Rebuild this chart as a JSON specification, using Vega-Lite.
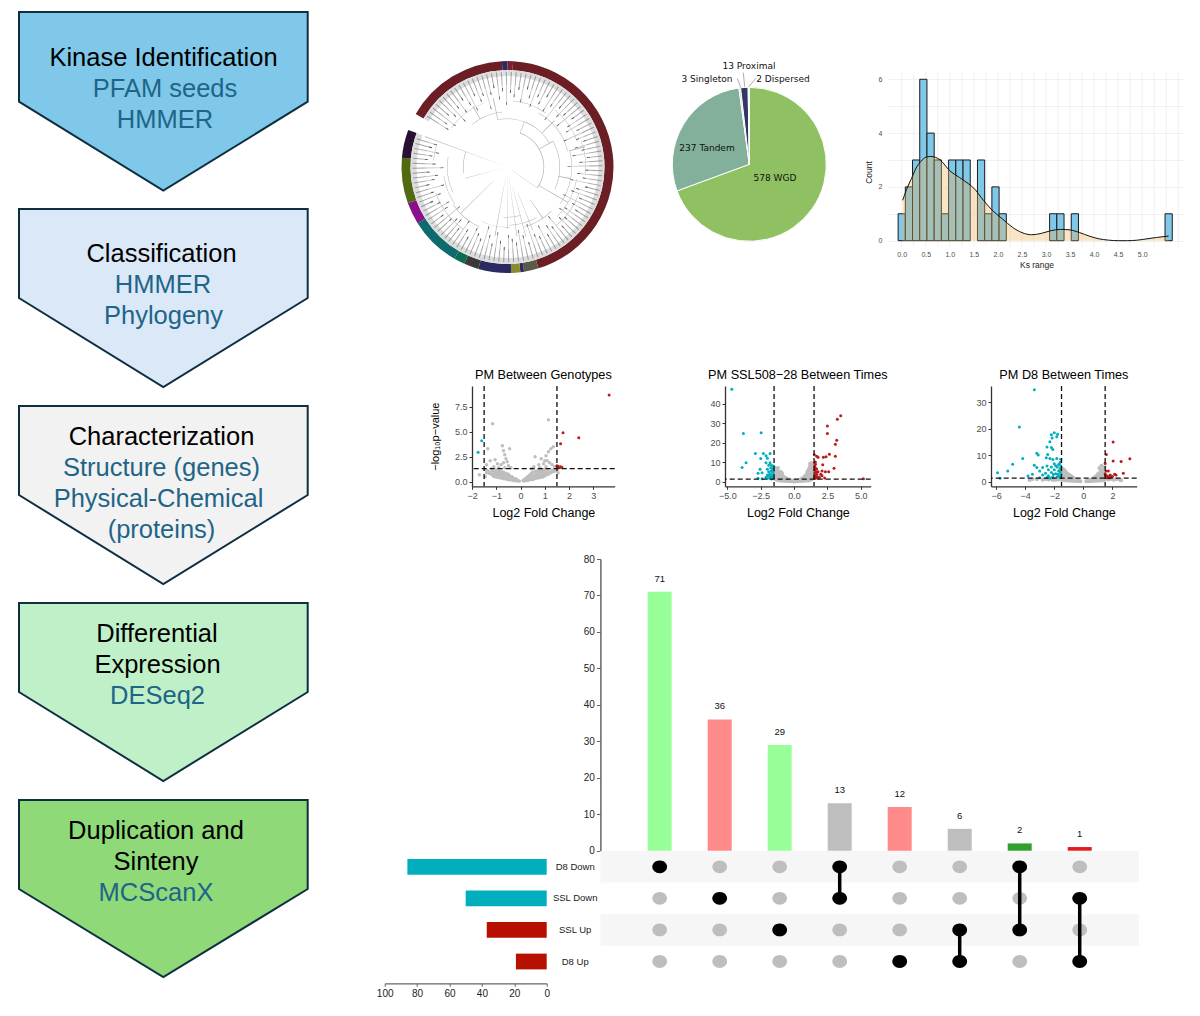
{"$schema":"https://vega.github.io/schema/vega-lite/v6.json","background":"white","padding":0,"spacing":0,"resolve":{"scale":{"color":"independent"}},"config":{"font":"Liberation Sans","view":{"stroke":null},"axis":{"labelFontWeight":"normal","titleFontWeight":"normal","labelFlush":false}},
"datasets":{
"flow":[{"step":"1","x":19,"t":12,"b":101.7},{"step":"1","x":163.3,"t":12,"b":190.7},{"step":"1","x":307.7,"t":12,"b":101.7},{"step":"2","x":19,"t":209,"b":298},{"step":"2","x":163.3,"t":209,"b":387},{"step":"2","x":307.7,"t":209,"b":298},{"step":"3","x":19,"t":406,"b":495},{"step":"3","x":163.3,"t":406,"b":584},{"step":"3","x":307.7,"t":406,"b":495},{"step":"4","x":19,"t":603,"b":692},{"step":"4","x":163.3,"t":603,"b":781},{"step":"4","x":307.7,"t":603,"b":692},{"step":"5","x":19,"t":800,"b":889},{"step":"5","x":163.3,"t":800,"b":977},{"step":"5","x":307.7,"t":800,"b":889}],
"flowText":[{"l":"Kinase Identification","x":163.5,"y":57,"k":"head"},{"l":"PFAM seeds","x":165,"y":88,"k":"sub"},{"l":"HMMER","x":165,"y":119,"k":"sub"},{"l":"Classification","x":161.5,"y":253,"k":"head"},{"l":"HMMER","x":163,"y":284,"k":"sub"},{"l":"Phylogeny","x":163.5,"y":315,"k":"sub"},{"l":"Characterization","x":161.5,"y":436,"k":"head"},{"l":"Structure (genes)","x":161.5,"y":467,"k":"sub"},{"l":"Physical-Chemical","x":158.5,"y":498,"k":"sub"},{"l":"(proteins)","x":161.5,"y":529,"k":"sub"},{"l":"Differential","x":157,"y":633,"k":"head"},{"l":"Expression","x":157.5,"y":664,"k":"head"},{"l":"DESeq2","x":157.5,"y":695,"k":"sub"},{"l":"Duplication and","x":156,"y":830,"k":"head"},{"l":"Sinteny","x":156,"y":861,"k":"head"},{"l":"MCScanX","x":156,"y":892,"k":"sub"}],
"ring":[{"a":-60,"b":-3,"c":"C1"},{"a":-3,"b":0,"c":"C2"},{"a":0,"b":3,"c":"C3"},{"a":3,"b":163,"c":"C1"},{"a":163,"b":171,"c":"C4"},{"a":171,"b":173,"c":"C2"},{"a":173,"b":178,"c":"C6"},{"a":178,"b":196,"c":"C2"},{"a":196,"b":204,"c":"C7"},{"a":204,"b":210,"c":"C8"},{"a":210,"b":238,"c":"C9"},{"a":238,"b":250,"c":"C10"},{"a":250,"b":275,"c":"C11"},{"a":275,"b":290.5,"c":"C12"}],
"branch":[{"a":125,"b":125.6,"r":5,"s":36},{"a":290,"b":290.5,"r":0,"s":88},{"a":255,"b":255.6,"r":4,"s":44},{"a":180,"b":180.5,"r":8,"s":62},{"a":172,"b":172.5,"r":12,"s":70},{"a":190,"b":190.6,"r":10,"s":70},{"a":165,"b":165.5,"r":20,"s":72},{"a":158,"b":158.5,"r":28,"s":68},{"a":225,"b":225.6,"r":20,"s":66},{"a":20,"b":20.8,"r":36,"s":48},{"a":60,"b":60.8,"r":36,"s":52},{"a":100,"b":100.7,"r":52,"s":64},{"a":-12,"b":-11.3,"r":48,"s":70},{"a":45,"b":45.7,"r":48,"s":66},{"a":75,"b":75.7,"r":64,"s":80},{"a":-30,"b":-29.3,"r":55,"s":70},{"a":120,"b":120.7,"r":36,"s":70},{"a":145,"b":145.7,"r":40,"s":62},{"a":-12,"b":60,"r":48,"s":48.6},{"a":60,"b":115,"r":52,"s":52.6},{"a":75,"b":125,"r":64,"s":64.5},{"a":30,"b":75,"r":62,"s":62.5},{"a":100,"b":135,"r":70,"s":70.5},{"a":-40,"b":-5,"r":55,"s":55.5},{"a":-55,"b":-20,"r":68,"s":68.5},{"a":5,"b":35,"r":66,"s":66.5},{"a":40,"b":70,"r":74,"s":74.5},{"a":70,"b":95,"r":78,"s":78.5},{"a":110,"b":140,"r":76,"s":76.5},{"a":135,"b":165,"r":62,"s":62.5},{"a":150,"b":178,"r":58,"s":58.5},{"a":165,"b":185,"r":50,"s":50.5},{"a":178,"b":205,"r":60,"s":60.5},{"a":205,"b":235,"r":66,"s":66.5},{"a":235,"b":262,"r":64,"s":64.5},{"a":262,"b":290,"r":44,"s":44.6},{"a":245,"b":280,"r":60,"s":60.5},{"a":215,"b":250,"r":76,"s":76.5},{"a":275,"b":288,"r":74,"s":74.5},{"a":20,"b":125,"r":36,"s":36.7}],
"leaf":[{"a":-58,"b":-57.4,"r":70,"q":73},{"a":-55,"b":-54.4,"r":74,"q":77},{"a":-52,"b":-51.4,"r":66,"q":69},{"a":-49,"b":-48.4,"r":78,"q":81},{"a":-46,"b":-45.4,"r":72,"q":75},{"a":-43,"b":-42.4,"r":62,"q":65},{"a":-40,"b":-39.4,"r":76,"q":79},{"a":-37,"b":-36.4,"r":68,"q":71},{"a":-34,"b":-33.4,"r":80,"q":83},{"a":-31,"b":-30.4,"r":72,"q":75},{"a":-28,"b":-27.4,"r":64,"q":67},{"a":-25,"b":-24.4,"r":78,"q":81},{"a":-22,"b":-21.4,"r":70,"q":73},{"a":-19,"b":-18.4,"r":75,"q":78},{"a":-16,"b":-15.4,"r":60,"q":63},{"a":-13,"b":-12.4,"r":74,"q":77},{"a":-10,"b":-9.4,"r":80,"q":83},{"a":-7,"b":-6.4,"r":68,"q":71},{"a":-4,"b":-3.4,"r":76,"q":79},{"a":-1,"b":-0.4,"r":62,"q":65},{"a":2,"b":2.6,"r":74,"q":77},{"a":5,"b":5.6,"r":70,"q":73},{"a":8,"b":8.6,"r":78,"q":81},{"a":11,"b":11.6,"r":66,"q":69},{"a":14,"b":14.6,"r":80,"q":83},{"a":17,"b":17.6,"r":72,"q":75},{"a":20,"b":20.6,"r":64,"q":67},{"a":23,"b":23.6,"r":76,"q":79},{"a":26,"b":26.6,"r":70,"q":73},{"a":29,"b":29.6,"r":80,"q":83},{"a":32,"b":32.6,"r":66,"q":69},{"a":35,"b":35.6,"r":74,"q":77},{"a":38,"b":38.6,"r":60,"q":63},{"a":41,"b":41.6,"r":78,"q":81},{"a":44,"b":44.6,"r":70,"q":73},{"a":47,"b":47.6,"r":76,"q":79},{"a":50,"b":50.6,"r":64,"q":67},{"a":53,"b":53.6,"r":80,"q":83},{"a":56,"b":56.6,"r":72,"q":75},{"a":59,"b":59.6,"r":68,"q":71},{"a":62,"b":62.6,"r":78,"q":81},{"a":65,"b":65.6,"r":62,"q":65},{"a":68,"b":68.6,"r":74,"q":77},{"a":71,"b":71.6,"r":80,"q":83},{"a":74,"b":74.6,"r":70,"q":73},{"a":77,"b":77.6,"r":76,"q":79},{"a":80,"b":80.6,"r":66,"q":69},{"a":83,"b":83.6,"r":80,"q":83},{"a":86,"b":86.6,"r":72,"q":75},{"a":89,"b":89.6,"r":60,"q":63},{"a":92,"b":92.6,"r":78,"q":81},{"a":95,"b":95.6,"r":70,"q":73},{"a":98,"b":98.6,"r":76,"q":79},{"a":101,"b":101.6,"r":64,"q":67},{"a":104,"b":104.6,"r":80,"q":83},{"a":107,"b":107.6,"r":72,"q":75},{"a":110,"b":110.6,"r":68,"q":71},{"a":113,"b":113.6,"r":78,"q":81},{"a":116,"b":116.6,"r":62,"q":65},{"a":119,"b":119.6,"r":74,"q":77},{"a":122,"b":122.6,"r":80,"q":83},{"a":125,"b":125.6,"r":70,"q":73},{"a":128,"b":128.6,"r":66,"q":69},{"a":131,"b":131.6,"r":76,"q":79},{"a":134,"b":134.6,"r":72,"q":75},{"a":137,"b":137.6,"r":80,"q":83},{"a":140,"b":140.6,"r":64,"q":67},{"a":143,"b":143.6,"r":74,"q":77},{"a":146,"b":146.6,"r":70,"q":73},{"a":149,"b":149.6,"r":78,"q":81},{"a":152,"b":152.6,"r":66,"q":69},{"a":155,"b":155.6,"r":76,"q":79},{"a":158,"b":158.6,"r":72,"q":75},{"a":161,"b":161.6,"r":60,"q":63},{"a":164,"b":164.6,"r":78,"q":81},{"a":167,"b":167.6,"r":70,"q":73},{"a":170,"b":170.6,"r":64,"q":67},{"a":173,"b":173.6,"r":76,"q":79},{"a":176,"b":176.6,"r":72,"q":75},{"a":179,"b":179.6,"r":68,"q":71},{"a":182,"b":182.6,"r":80,"q":83},{"a":185,"b":185.6,"r":74,"q":77},{"a":188,"b":188.6,"r":66,"q":69},{"a":191,"b":191.6,"r":78,"q":81},{"a":194,"b":194.6,"r":70,"q":73},{"a":197,"b":197.6,"r":62,"q":65},{"a":200,"b":200.6,"r":76,"q":79},{"a":203,"b":203.6,"r":72,"q":75},{"a":206,"b":206.6,"r":68,"q":71},{"a":209,"b":209.6,"r":80,"q":83},{"a":212,"b":212.6,"r":74,"q":77},{"a":215,"b":215.6,"r":66,"q":69},{"a":218,"b":218.6,"r":78,"q":81},{"a":221,"b":221.6,"r":70,"q":73},{"a":224,"b":224.6,"r":72,"q":75},{"a":227,"b":227.6,"r":76,"q":79},{"a":230,"b":230.6,"r":62,"q":65},{"a":233,"b":233.6,"r":80,"q":83},{"a":236,"b":236.6,"r":72,"q":75},{"a":239,"b":239.6,"r":68,"q":71},{"a":242,"b":242.6,"r":76,"q":79},{"a":245,"b":245.6,"r":82,"q":85},{"a":248,"b":248.6,"r":72,"q":75},{"a":251,"b":251.6,"r":78,"q":81},{"a":254,"b":254.6,"r":66,"q":69},{"a":257,"b":257.6,"r":80,"q":83},{"a":260,"b":260.6,"r":74,"q":77},{"a":263,"b":263.6,"r":70,"q":73},{"a":266,"b":266.6,"r":78,"q":81},{"a":269,"b":269.6,"r":64,"q":67},{"a":272,"b":272.6,"r":72,"q":75},{"a":275,"b":275.6,"r":80,"q":83},{"a":278,"b":278.6,"r":76,"q":79},{"a":281,"b":281.6,"r":70,"q":73},{"a":284,"b":284.6,"r":78,"q":81},{"a":287,"b":287.6,"r":74,"q":77}],
"pie":[{"t":"WGD","n":578,"o":1},{"t":"Tandem","n":237,"o":2},{"t":"Singleton","n":3,"o":3},{"t":"Proximal","n":13,"o":4},{"t":"Dispersed","n":2,"o":5}],
"pieText":[{"l":"578 WGD","x":155,"y":131},{"l":"237 Tandem","x":87,"y":100.7},{"l":"13 Proximal","x":129,"y":19},{"l":"3 Singleton","x":87,"y":32},{"l":"2 Dispersed","x":163,"y":32}],
"pieLead":[{"x":117.3,"y":31.3,"x2":120.7,"y2":40.3},{"x":123.3,"y":25.7,"x2":124.7,"y2":39.7},{"x":136,"y":31.3,"x2":128.7,"y2":39.7}],
"histGrid":[{"x":0,"y":-0.235,"y2":6.27},{"x":0.25,"y":-0.235,"y2":6.27},{"x":0.5,"y":-0.235,"y2":6.27},{"x":0.75,"y":-0.235,"y2":6.27},{"x":1,"y":-0.235,"y2":6.27},{"x":1.25,"y":-0.235,"y2":6.27},{"x":1.5,"y":-0.235,"y2":6.27},{"x":1.75,"y":-0.235,"y2":6.27},{"x":2,"y":-0.235,"y2":6.27},{"x":2.25,"y":-0.235,"y2":6.27},{"x":2.5,"y":-0.235,"y2":6.27},{"x":2.75,"y":-0.235,"y2":6.27},{"x":3,"y":-0.235,"y2":6.27},{"x":3.25,"y":-0.235,"y2":6.27},{"x":3.5,"y":-0.235,"y2":6.27},{"x":3.75,"y":-0.235,"y2":6.27},{"x":4,"y":-0.235,"y2":6.27},{"x":4.25,"y":-0.235,"y2":6.27},{"x":4.5,"y":-0.235,"y2":6.27},{"x":4.75,"y":-0.235,"y2":6.27},{"x":5,"y":-0.235,"y2":6.27},{"x":5.25,"y":-0.235,"y2":6.27},{"x":5.5,"y":-0.235,"y2":6.27},{"x":5.75,"y":-0.235,"y2":6.27}],
"hist":[{"s":-0.075,"e":0.075,"n":1,"z":0},{"s":0.075,"e":0.225,"n":2,"z":0},{"s":0.225,"e":0.375,"n":3,"z":0},{"s":0.375,"e":0.525,"n":6,"z":0},{"s":0.525,"e":0.675,"n":4,"z":0},{"s":0.675,"e":0.825,"n":3,"z":0},{"s":0.825,"e":0.975,"n":1,"z":0},{"s":0.975,"e":1.125,"n":3,"z":0},{"s":1.125,"e":1.275,"n":3,"z":0},{"s":1.275,"e":1.425,"n":3,"z":0},{"s":1.575,"e":1.725,"n":3,"z":0},{"s":1.725,"e":1.875,"n":1,"z":0},{"s":1.875,"e":2.025,"n":2,"z":0},{"s":2.025,"e":2.175,"n":1,"z":0},{"s":3.075,"e":3.225,"n":1,"z":0},{"s":3.225,"e":3.375,"n":1,"z":0},{"s":3.525,"e":3.675,"n":1,"z":0},{"s":5.475,"e":5.625,"n":1,"z":0}],
"dens":[{"x":0.02,"y":1.5},{"x":0.1,"y":1.9},{"x":0.2,"y":2.3},{"x":0.3,"y":2.7},{"x":0.4,"y":2.95},{"x":0.5,"y":3.1},{"x":0.6,"y":3.13},{"x":0.7,"y":3.1},{"x":0.8,"y":3},{"x":1,"y":2.6},{"x":1.2,"y":2.35},{"x":1.4,"y":2.1},{"x":1.5,"y":1.95},{"x":1.7,"y":1.5},{"x":1.9,"y":1.1},{"x":2.1,"y":0.8},{"x":2.3,"y":0.5},{"x":2.5,"y":0.3},{"x":2.7,"y":0.22},{"x":2.9,"y":0.27},{"x":3.1,"y":0.37},{"x":3.3,"y":0.42},{"x":3.5,"y":0.4},{"x":3.7,"y":0.3},{"x":3.9,"y":0.17},{"x":4.1,"y":0.07},{"x":4.3,"y":0.02},{"x":4.5,"y":0},{"x":4.7,"y":0},{"x":4.9,"y":0.02},{"x":5.1,"y":0.07},{"x":5.3,"y":0.12},{"x":5.55,"y":0.17}],
"v1n":[{"x":-0.05,"y":0.05},{"x":-0.1,"y":0.1},{"x":-0.15,"y":0.05},{"x":-0.15,"y":0.2},{"x":-0.2,"y":0.1},{"x":-0.2,"y":0.3},{"x":-0.25,"y":0.2},{"x":-0.3,"y":0.1},{"x":-0.3,"y":0.35},{"x":-0.35,"y":0.25},{"x":-0.35,"y":0.5},{"x":-0.4,"y":0.15},{"x":-0.4,"y":0.4},{"x":-0.45,"y":0.3},{"x":-0.45,"y":0.6},{"x":-0.5,"y":0.2},{"x":-0.5,"y":0.45},{"x":-0.5,"y":0.75},{"x":-0.55,"y":0.35},{"x":-0.55,"y":0.6},{"x":-0.6,"y":0.25},{"x":-0.6,"y":0.5},{"x":-0.6,"y":0.85},{"x":-0.65,"y":0.4},{"x":-0.65,"y":0.7},{"x":-0.7,"y":0.3},{"x":-0.7,"y":0.55},{"x":-0.7,"y":0.95},{"x":-0.75,"y":0.45},{"x":-0.75,"y":0.8},{"x":-0.8,"y":0.35},{"x":-0.8,"y":0.6},{"x":-0.8,"y":1.05},{"x":-0.85,"y":0.5},{"x":-0.85,"y":0.85},{"x":-0.9,"y":0.4},{"x":-0.9,"y":0.7},{"x":-0.9,"y":1.1},{"x":-0.95,"y":0.55},{"x":-0.95,"y":0.9},{"x":-1,"y":0.45},{"x":-1,"y":0.75},{"x":-1,"y":1.2},{"x":-1.05,"y":0.6},{"x":-1.05,"y":1},{"x":-1.1,"y":0.5},{"x":-1.1,"y":0.8},{"x":-1.15,"y":0.65},{"x":-1.15,"y":1.1},{"x":-1.2,"y":0.75},{"x":-1.25,"y":0.95},{"x":-1.3,"y":0.85},{"x":-1.35,"y":1.1},{"x":-1.4,"y":0.9},{"x":-1.45,"y":1.2},{"x":-1.15,"y":5.8},{"x":-0.75,"y":3.6},{"x":-0.45,"y":3.3},{"x":-1.35,"y":3.3},{"x":-0.7,"y":3.1},{"x":-0.65,"y":2.7},{"x":-1.05,"y":2.2},{"x":-1.25,"y":2.1},{"x":-0.6,"y":2.3},{"x":-0.55,"y":2},{"x":-0.8,"y":1.7},{"x":-0.95,"y":1.8},{"x":-0.5,"y":1.6},{"x":-1.4,"y":1.7},{"x":-0.7,"y":1.9},{"x":-0.4,"y":1.4},{"x":-1.1,"y":1.5},{"x":-0.9,"y":1.4},{"x":-1.2,"y":1.3},{"x":-0.65,"y":1.4},{"x":-1.7,"y":0.7},{"x":-1.45,"y":0.5},{"x":0.1,"y":0.1},{"x":0.15,"y":0.2},{"x":0.15,"y":0.05},{"x":0.2,"y":0.3},{"x":0.2,"y":0.1},{"x":0.25,"y":0.4},{"x":0.25,"y":0.2},{"x":0.3,"y":0.5},{"x":0.3,"y":0.1},{"x":0.35,"y":0.3},{"x":0.35,"y":0.6},{"x":0.4,"y":0.2},{"x":0.4,"y":0.45},{"x":0.4,"y":0.7},{"x":0.45,"y":0.3},{"x":0.45,"y":0.85},{"x":0.5,"y":0.55},{"x":0.5,"y":0.2},{"x":0.5,"y":0.95},{"x":0.55,"y":0.4},{"x":0.55,"y":0.7},{"x":0.6,"y":0.3},{"x":0.6,"y":0.55},{"x":0.6,"y":1.05},{"x":0.65,"y":0.45},{"x":0.65,"y":0.8},{"x":0.7,"y":0.35},{"x":0.7,"y":0.65},{"x":0.7,"y":1.1},{"x":0.75,"y":0.5},{"x":0.75,"y":0.9},{"x":0.8,"y":0.4},{"x":0.8,"y":0.7},{"x":0.8,"y":1.15},{"x":0.85,"y":0.55},{"x":0.85,"y":1},{"x":0.9,"y":0.45},{"x":0.9,"y":0.8},{"x":0.9,"y":1.2},{"x":0.95,"y":0.65},{"x":0.95,"y":1.05},{"x":1,"y":0.55},{"x":1,"y":0.9},{"x":1,"y":1.25},{"x":1.05,"y":0.7},{"x":1.05,"y":1.1},{"x":1.1,"y":0.85},{"x":1.1,"y":1.2},{"x":1.15,"y":0.75},{"x":1.2,"y":1},{"x":1.25,"y":0.9},{"x":1.3,"y":1.15},{"x":1.35,"y":1},{"x":1.4,"y":1.2},{"x":1.45,"y":1.1},{"x":1.15,"y":6.2},{"x":1.35,"y":3.5},{"x":1.25,"y":3.3},{"x":1.15,"y":3},{"x":1.05,"y":2.6},{"x":0.6,"y":2.5},{"x":0.85,"y":2.3},{"x":1,"y":2.1},{"x":1.1,"y":2.1},{"x":1.2,"y":1.9},{"x":0.95,"y":1.8},{"x":0.75,"y":1.7},{"x":1.3,"y":1.7},{"x":0.55,"y":1.5},{"x":0.8,"y":1.4},{"x":1.05,"y":1.5},{"x":1.4,"y":1.5},{"x":0.45,"y":1.3},{"x":1.5,"y":1.1},{"x":1.55,"y":0.9}],
"v1s":[{"x":3.65,"y":8.7,"g":"Up"},{"x":2.4,"y":4.4,"g":"Up"},{"x":1.75,"y":4.9,"g":"Up"},{"x":1.65,"y":3.8,"g":"Up"},{"x":1.5,"y":1.6,"g":"Up"},{"x":1.55,"y":1.55,"g":"Up"},{"x":1.6,"y":1.4,"g":"Up"},{"x":1.65,"y":1.5,"g":"Up"},{"x":1.7,"y":1.45,"g":"Up"},{"x":-1.6,"y":4.1,"g":"Down"},{"x":-1.75,"y":2.95,"g":"Down"}],
"v2n":[{"x":-0.1,"y":0.2},{"x":-0.2,"y":0.4},{"x":-0.3,"y":0.2},{"x":-0.3,"y":0.7},{"x":-0.4,"y":0.3},{"x":-0.4,"y":1},{"x":-0.5,"y":0.5},{"x":-0.5,"y":1.3},{"x":-0.6,"y":0.3},{"x":-0.6,"y":1},{"x":-0.6,"y":1.7},{"x":-0.7,"y":0.6},{"x":-0.7,"y":1.4},{"x":-0.7,"y":2.1},{"x":-0.8,"y":0.4},{"x":-0.8,"y":1.2},{"x":-0.8,"y":2},{"x":-0.8,"y":2.6},{"x":-0.9,"y":0.7},{"x":-0.9,"y":1.6},{"x":-0.9,"y":2.5},{"x":-0.9,"y":3.2},{"x":-1,"y":0.5},{"x":-1,"y":1.4},{"x":-1,"y":2.3},{"x":-1,"y":3.1},{"x":-1,"y":3.8},{"x":-1.1,"y":0.9},{"x":-1.1,"y":1.9},{"x":-1.1,"y":2.9},{"x":-1.1,"y":3.7},{"x":-1.1,"y":4.5},{"x":-1.2,"y":0.7},{"x":-1.2,"y":1.7},{"x":-1.2,"y":2.7},{"x":-1.2,"y":3.6},{"x":-1.2,"y":4.5},{"x":-1.2,"y":5.2},{"x":-1.3,"y":1},{"x":-1.3,"y":2.2},{"x":-1.3,"y":3.3},{"x":-1.3,"y":4.4},{"x":-1.3,"y":5.4},{"x":-1.3,"y":6},{"x":-1.4,"y":1.4},{"x":-1.4,"y":2.7},{"x":-1.4,"y":3.9},{"x":-1.4,"y":5},{"x":-1.4,"y":6.1},{"x":-1.4,"y":6.9},{"x":-1.5,"y":1.8},{"x":-1.5,"y":3.2},{"x":-1.5,"y":4.6},{"x":-1.5,"y":5.9},{"x":-1.5,"y":7.2},{"x":-1.2,"y":7},{"x":-1,"y":5.1},{"x":-0.9,"y":4.3},{"x":0.1,"y":0.2},{"x":0.2,"y":0.3},{"x":0.3,"y":0.2},{"x":0.3,"y":0.7},{"x":0.4,"y":0.4},{"x":0.4,"y":1},{"x":0.5,"y":0.3},{"x":0.5,"y":1.2},{"x":0.6,"y":0.6},{"x":0.6,"y":1.6},{"x":0.7,"y":0.4},{"x":0.7,"y":1.2},{"x":0.7,"y":2},{"x":0.8,"y":0.7},{"x":0.8,"y":1.6},{"x":0.8,"y":2.6},{"x":0.9,"y":0.5},{"x":0.9,"y":1.5},{"x":0.9,"y":2.5},{"x":0.9,"y":3.4},{"x":1,"y":0.8},{"x":1,"y":1.9},{"x":1,"y":3},{"x":1,"y":4.1},{"x":1,"y":5},{"x":1.1,"y":0.6},{"x":1.1,"y":1.8},{"x":1.1,"y":3},{"x":1.1,"y":4.2},{"x":1.1,"y":5.4},{"x":1.1,"y":6.4},{"x":1.2,"y":1},{"x":1.2,"y":2.4},{"x":1.2,"y":3.8},{"x":1.2,"y":5.2},{"x":1.2,"y":6.6},{"x":1.2,"y":7.8},{"x":1.2,"y":9.2},{"x":1.3,"y":1.2},{"x":1.3,"y":2.8},{"x":1.3,"y":4.4},{"x":1.3,"y":6},{"x":1.3,"y":7.6},{"x":1.3,"y":9.5},{"x":1.4,"y":1.6},{"x":1.4,"y":3.4},{"x":1.4,"y":5.2},{"x":1.4,"y":7},{"x":1.4,"y":8.6},{"x":1.45,"y":2.5},{"x":1.45,"y":4.5},{"x":1.45,"y":6.5},{"x":0,"y":0.1}],
"v2s":[{"x":-4.67,"y":47.3,"g":"Down"},{"x":-3.8,"y":24.6,"g":"Down"},{"x":-2.47,"y":25.1,"g":"Down"},{"x":-3.6,"y":9.7,"g":"Down"},{"x":-3.9,"y":7.2,"g":"Down"},{"x":-2.9,"y":14.4,"g":"Down"},{"x":-2.3,"y":14.4,"g":"Down"},{"x":-1.8,"y":14.4,"g":"Down"},{"x":-2.5,"y":11.8,"g":"Down"},{"x":-2.1,"y":13.2,"g":"Down"},{"x":-2,"y":12,"g":"Down"},{"x":-2.1,"y":9.7,"g":"Down"},{"x":-1.8,"y":9.7,"g":"Down"},{"x":-1.9,"y":8.4,"g":"Down"},{"x":-1.7,"y":8.4,"g":"Down"},{"x":-2.55,"y":6.3,"g":"Down"},{"x":-2.7,"y":4.3,"g":"Down"},{"x":-2.4,"y":4.6,"g":"Down"},{"x":-2,"y":6.3,"g":"Down"},{"x":-2.7,"y":1.7,"g":"Down"},{"x":-2.4,"y":1.5,"g":"Down"},{"x":-1.9,"y":5,"g":"Down"},{"x":-1.8,"y":4,"g":"Down"},{"x":-1.7,"y":5.5,"g":"Down"},{"x":-1.6,"y":6.5,"g":"Down"},{"x":-1.55,"y":8,"g":"Down"},{"x":-1.6,"y":3,"g":"Down"},{"x":-1.7,"y":2.5,"g":"Down"},{"x":-1.8,"y":1.8,"g":"Down"},{"x":-1.9,"y":2.8,"g":"Down"},{"x":-2,"y":1.6,"g":"Down"},{"x":-2,"y":3.4,"g":"Down"},{"x":-1.75,"y":7,"g":"Down"},{"x":-1.65,"y":1.6,"g":"Down"},{"x":-1.55,"y":2,"g":"Down"},{"x":-1.6,"y":4.5,"g":"Down"},{"x":-1.55,"y":5.2,"g":"Down"},{"x":-1.85,"y":3.4,"g":"Down"},{"x":-1.75,"y":3.2,"g":"Down"},{"x":-2.1,"y":2.2,"g":"Down"},{"x":-1.7,"y":1.4,"g":"Down"},{"x":3.5,"y":33.7,"g":"Up"},{"x":3.25,"y":32,"g":"Up"},{"x":2.5,"y":28.5,"g":"Up"},{"x":2.5,"y":24.6,"g":"Up"},{"x":3.2,"y":21.2,"g":"Up"},{"x":3.1,"y":19.1,"g":"Up"},{"x":5.2,"y":1.5,"g":"Up"},{"x":3.1,"y":13,"g":"Up"},{"x":2.65,"y":14,"g":"Up"},{"x":2.4,"y":12.8,"g":"Up"},{"x":2.2,"y":12.5,"g":"Up"},{"x":1.52,"y":13.8,"g":"Up"},{"x":1.8,"y":12.5,"g":"Up"},{"x":1.7,"y":13,"g":"Up"},{"x":2.15,"y":8.7,"g":"Up"},{"x":3,"y":6.8,"g":"Up"},{"x":2.6,"y":5.1,"g":"Up"},{"x":2.35,"y":5,"g":"Up"},{"x":2.1,"y":5.5,"g":"Up"},{"x":2,"y":3.8,"g":"Up"},{"x":1.8,"y":5,"g":"Up"},{"x":1.6,"y":8.9,"g":"Up"},{"x":1.55,"y":8,"g":"Up"},{"x":1.6,"y":7,"g":"Up"},{"x":1.7,"y":6.5,"g":"Up"},{"x":1.55,"y":6,"g":"Up"},{"x":1.65,"y":5,"g":"Up"},{"x":1.55,"y":4.5,"g":"Up"},{"x":1.7,"y":3.8,"g":"Up"},{"x":1.6,"y":3,"g":"Up"},{"x":1.55,"y":2.5,"g":"Up"},{"x":1.75,"y":2.5,"g":"Up"},{"x":1.65,"y":1.8,"g":"Up"},{"x":1.55,"y":1.6,"g":"Up"},{"x":1.9,"y":2.2,"g":"Up"},{"x":2.1,"y":3,"g":"Up"},{"x":2.3,"y":1.8,"g":"Up"},{"x":1.8,"y":1.7,"g":"Up"},{"x":1.6,"y":10,"g":"Up"},{"x":1.55,"y":9.5,"g":"Up"}],
"v3n":[{"x":-0.2,"y":0.1},{"x":-0.3,"y":0.3},{"x":-0.4,"y":0.2},{"x":-0.4,"y":0.6},{"x":-0.5,"y":0.3},{"x":-0.5,"y":0.8},{"x":-0.6,"y":0.2},{"x":-0.6,"y":0.7},{"x":-0.6,"y":1.1},{"x":-0.7,"y":0.4},{"x":-0.7,"y":1},{"x":-0.7,"y":1.5},{"x":-0.8,"y":0.3},{"x":-0.8,"y":0.9},{"x":-0.8,"y":1.4},{"x":-0.8,"y":1.9},{"x":-0.9,"y":0.5},{"x":-0.9,"y":1.1},{"x":-0.9,"y":1.7},{"x":-0.9,"y":2.2},{"x":-1,"y":0.3},{"x":-1,"y":0.9},{"x":-1,"y":1.5},{"x":-1,"y":2.1},{"x":-1,"y":2.7},{"x":-1.1,"y":0.6},{"x":-1.1,"y":1.2},{"x":-1.1,"y":1.8},{"x":-1.1,"y":2.4},{"x":-1.1,"y":3},{"x":-1.2,"y":0.4},{"x":-1.2,"y":1},{"x":-1.2,"y":1.7},{"x":-1.2,"y":2.4},{"x":-1.2,"y":3.1},{"x":-1.2,"y":3.6},{"x":-1.3,"y":0.7},{"x":-1.3,"y":1.4},{"x":-1.3,"y":2.1},{"x":-1.3,"y":2.9},{"x":-1.3,"y":3.7},{"x":-1.3,"y":4.4},{"x":-1.4,"y":0.5},{"x":-1.4,"y":1.2},{"x":-1.4,"y":2},{"x":-1.4,"y":2.8},{"x":-1.4,"y":3.6},{"x":-1.4,"y":4.8},{"x":-1.5,"y":0.8},{"x":-1.5,"y":1.7},{"x":-1.5,"y":2.6},{"x":-1.5,"y":3.5},{"x":-1.5,"y":4.4},{"x":-1.5,"y":5.2},{"x":-1.6,"y":0.9},{"x":-1.7,"y":0.8},{"x":-1.8,"y":1},{"x":-1.9,"y":0.7},{"x":-2,"y":1},{"x":-2.1,"y":0.6},{"x":-2.2,"y":1.1},{"x":-2.4,"y":0.8},{"x":-2.6,"y":1},{"x":-2.8,"y":0.7},{"x":-3.7,"y":0.6},{"x":-3.5,"y":1},{"x":-3.2,"y":0.9},{"x":0.2,"y":0.1},{"x":0.3,"y":0.2},{"x":0.4,"y":0.4},{"x":0.4,"y":0.1},{"x":0.5,"y":0.3},{"x":0.5,"y":0.7},{"x":0.6,"y":0.2},{"x":0.6,"y":0.6},{"x":0.6,"y":1},{"x":0.7,"y":0.4},{"x":0.7,"y":0.9},{"x":0.7,"y":1.3},{"x":0.8,"y":0.3},{"x":0.8,"y":0.8},{"x":0.8,"y":1.3},{"x":0.8,"y":1.7},{"x":0.9,"y":0.5},{"x":0.9,"y":1.1},{"x":0.9,"y":1.6},{"x":0.9,"y":2.1},{"x":1,"y":0.3},{"x":1,"y":0.9},{"x":1,"y":1.5},{"x":1,"y":2.1},{"x":1,"y":2.8},{"x":1.1,"y":0.6},{"x":1.1,"y":1.2},{"x":1.1,"y":1.9},{"x":1.1,"y":2.6},{"x":1.1,"y":3.3},{"x":1.1,"y":5.2},{"x":1.2,"y":0.4},{"x":1.2,"y":1.1},{"x":1.2,"y":1.9},{"x":1.2,"y":2.7},{"x":1.2,"y":3.5},{"x":1.2,"y":4.5},{"x":1.25,"y":6},{"x":1.3,"y":0.7},{"x":1.3,"y":1.5},{"x":1.3,"y":2.4},{"x":1.3,"y":3.2},{"x":1.3,"y":4.3},{"x":1.4,"y":0.5},{"x":1.4,"y":1.3},{"x":1.4,"y":2.2},{"x":1.4,"y":3.1},{"x":1.45,"y":5.4},{"x":1.5,"y":0.9},{"x":1.5,"y":1.8},{"x":1.7,"y":0.8},{"x":1.9,"y":1},{"x":2.1,"y":0.7},{"x":2.3,"y":1},{"x":2.5,"y":0.7},{"x":2.6,"y":0.5}],
"v3s":[{"x":-3.37,"y":34.8,"g":"Down"},{"x":-4.4,"y":20.7,"g":"Down"},{"x":-4.17,"y":8.8,"g":"Down"},{"x":-4.86,"y":6.6,"g":"Down"},{"x":-5.2,"y":4,"g":"Down"},{"x":-5.9,"y":3.4,"g":"Down"},{"x":-5.73,"y":1.3,"g":"Down"},{"x":-3.8,"y":2.1,"g":"Down"},{"x":-3.5,"y":2.8,"g":"Down"},{"x":-2.2,"y":17.7,"g":"Down"},{"x":-2,"y":18.5,"g":"Down"},{"x":-1.77,"y":17.9,"g":"Down"},{"x":-1.83,"y":17,"g":"Down"},{"x":-2.3,"y":15.1,"g":"Down"},{"x":-2.15,"y":16.5,"g":"Down"},{"x":-2.5,"y":13.1,"g":"Down"},{"x":-2.2,"y":12.9,"g":"Down"},{"x":-2.1,"y":12.2,"g":"Down"},{"x":-3.2,"y":10.7,"g":"Down"},{"x":-3.1,"y":10.1,"g":"Down"},{"x":-2.45,"y":10.3,"g":"Down"},{"x":-2.55,"y":9,"g":"Down"},{"x":-2.3,"y":8.8,"g":"Down"},{"x":-2.1,"y":8.4,"g":"Down"},{"x":-1.83,"y":8.8,"g":"Down"},{"x":-3.37,"y":6.2,"g":"Down"},{"x":-3.2,"y":5.3,"g":"Down"},{"x":-2.8,"y":5.3,"g":"Down"},{"x":-2.5,"y":5.9,"g":"Down"},{"x":-3,"y":4,"g":"Down"},{"x":-2.6,"y":3.2,"g":"Down"},{"x":-2.4,"y":2.2,"g":"Down"},{"x":-2.2,"y":3.5,"g":"Down"},{"x":-2.1,"y":1.8,"g":"Down"},{"x":-2,"y":4.5,"g":"Down"},{"x":-1.9,"y":3,"g":"Down"},{"x":-1.8,"y":5.5,"g":"Down"},{"x":-1.7,"y":6.5,"g":"Down"},{"x":-1.6,"y":7.2,"g":"Down"},{"x":-1.55,"y":8.5,"g":"Down"},{"x":-1.6,"y":5,"g":"Down"},{"x":-1.7,"y":4,"g":"Down"},{"x":-1.55,"y":3,"g":"Down"},{"x":-1.65,"y":2,"g":"Down"},{"x":-1.8,"y":1.8,"g":"Down"},{"x":-1.9,"y":6,"g":"Down"},{"x":-2,"y":6.8,"g":"Down"},{"x":-2.2,"y":5.5,"g":"Down"},{"x":-2.4,"y":4.5,"g":"Down"},{"x":-2.5,"y":1.6,"g":"Down"},{"x":-2.8,"y":2.5,"g":"Down"},{"x":-3,"y":1.5,"g":"Down"},{"x":-1.6,"y":1.6,"g":"Down"},{"x":-1.75,"y":2.8,"g":"Down"},{"x":-1.55,"y":6,"g":"Down"},{"x":-2.05,"y":2.8,"g":"Down"},{"x":-2.3,"y":1.4,"g":"Down"},{"x":-1.6,"y":3.8,"g":"Down"},{"x":2.05,"y":15,"g":"Up"},{"x":1.58,"y":10.3,"g":"Up"},{"x":2.05,"y":7.8,"g":"Up"},{"x":2.6,"y":7.6,"g":"Up"},{"x":3.2,"y":8.7,"g":"Up"},{"x":1.5,"y":6.9,"g":"Up"},{"x":2.75,"y":3.2,"g":"Up"},{"x":2.15,"y":2.8,"g":"Up"},{"x":2.25,"y":2.5,"g":"Up"},{"x":1.72,"y":4,"g":"Up"},{"x":1.56,"y":4,"g":"Up"},{"x":1.52,"y":2.5,"g":"Up"},{"x":1.67,"y":2.1,"g":"Up"},{"x":1.85,"y":2.5,"g":"Up"},{"x":1.9,"y":1.9,"g":"Up"},{"x":2,"y":1.9,"g":"Up"},{"x":1.8,"y":1.5,"g":"Up"},{"x":1.65,"y":1.5,"g":"Up"},{"x":1.5,"y":3,"g":"Up"},{"x":1.55,"y":1.6,"g":"Up"}],
"inter":[{"id":"a","n":71,"c":"light green"},{"id":"b","n":36,"c":"light red"},{"id":"c","n":29,"c":"light green"},{"id":"d","n":13,"c":"grey"},{"id":"e","n":12,"c":"light red"},{"id":"f","n":6,"c":"grey"},{"id":"g","n":2,"c":"green"},{"id":"h","n":1,"c":"red"}],
"sets":[{"s":"D8 Down","n":86,"g":"Down"},{"s":"SSL Down","n":50,"g":"Down"},{"s":"SSL Up","n":37,"g":"Up"},{"s":"D8 Up","n":19,"g":"Up"}],
"stripes":[{"s":"D8 Down"},{"s":"SSL Up"}],
"matrix":[{"id":"a","s":"D8 Down","m":1},{"id":"a","s":"SSL Down","m":0},{"id":"a","s":"SSL Up","m":0},{"id":"a","s":"D8 Up","m":0},{"id":"b","s":"D8 Down","m":0},{"id":"b","s":"SSL Down","m":1},{"id":"b","s":"SSL Up","m":0},{"id":"b","s":"D8 Up","m":0},{"id":"c","s":"D8 Down","m":0},{"id":"c","s":"SSL Down","m":0},{"id":"c","s":"SSL Up","m":1},{"id":"c","s":"D8 Up","m":0},{"id":"d","s":"D8 Down","m":1},{"id":"d","s":"SSL Down","m":1},{"id":"d","s":"SSL Up","m":0},{"id":"d","s":"D8 Up","m":0},{"id":"e","s":"D8 Down","m":0},{"id":"e","s":"SSL Down","m":0},{"id":"e","s":"SSL Up","m":0},{"id":"e","s":"D8 Up","m":1},{"id":"f","s":"D8 Down","m":0},{"id":"f","s":"SSL Down","m":0},{"id":"f","s":"SSL Up","m":1},{"id":"f","s":"D8 Up","m":1},{"id":"g","s":"D8 Down","m":1},{"id":"g","s":"SSL Down","m":0},{"id":"g","s":"SSL Up","m":1},{"id":"g","s":"D8 Up","m":0},{"id":"h","s":"D8 Down","m":0},{"id":"h","s":"SSL Down","m":1},{"id":"h","s":"SSL Up","m":0},{"id":"h","s":"D8 Up","m":1}]
},
"hconcat":[
{"width":310,"height":1016,"layer":[
{"data":{"name":"flow"},"mark":{"type":"area","stroke":"#0e2f41","strokeWidth":2,"opacity":1},"encoding":{"x":{"field":"x","type":"quantitative","scale":{"domain":[0,310]},"axis":null},"y":{"field":"t","type":"quantitative","scale":{"domain":[1016,0]},"axis":null},"y2":{"field":"b"},"color":{"field":"step","type":"nominal","scale":{"domain":["1","2","3","4","5","head","sub"],"range":["#7fc8ea","#dae8f7","#f2f2f2","#c0f0c8","#8fd978","#000000","#1e6587"]},"legend":null}}},
{"data":{"name":"flowText"},"mark":{"type":"text","fontSize":25.5,"baseline":"middle","align":"center","dy":1},"encoding":{"x":{"field":"x","type":"quantitative","scale":{"domain":[0,310]},"axis":null},"y":{"field":"y","type":"quantitative","scale":{"domain":[1016,0]},"axis":null},"text":{"field":"l"},"color":{"field":"k","type":"nominal","scale":{"domain":["1","2","3","4","5","head","sub"],"range":["#7fc8ea","#dae8f7","#f2f2f2","#c0f0c8","#8fd978","#000000","#1e6587"]},"legend":null}}}
]},
{"vconcat":[
{"width":10,"height":47,"data":{"values":[{"k":1}]},"mark":{"type":"point","opacity":0},"encoding":{}},
{"hconcat":[
{"width":82.7,"height":240,"data":{"values":[{"k":1}]},"mark":{"type":"point","opacity":0},"encoding":{}},
{"width":225,"height":240,"layer":[
{"data":{"name":"ring"},"mark":{"type":"arc","radius":106,"radius2":97},"encoding":{"theta":{"field":"a","type":"quantitative","stack":null,"scale":{"domain":[-60,300],"range":[-1.0472,5.23599]}},"theta2":{"field":"b"},"color":{"field":"c","type":"nominal","scale":{"domain":["C1","C2","C3","C4","C6","C7","C8","C9","C10","C11","C12"],"range":["#6b1f24","#2b2a62","#7a1e33","#5a5a4a","#8a8a30","#3a3a3a","#0d6b4f","#0d6a6e","#8a0f8a","#4f6a10","#2a1033"]},"legend":null}}},
{"data":{"name":"ring"},"mark":{"type":"arc","radius":97,"radius2":91,"color":"#dddddd"},"encoding":{"theta":{"field":"a","type":"quantitative","stack":null,"scale":{"domain":[-60,300],"range":[-1.0472,5.23599]}},"theta2":{"field":"b"}}},
{"data":{"name":"branch"},"mark":{"type":"arc","color":"#b5b5b5"},"encoding":{"theta":{"field":"a","type":"quantitative","stack":null,"scale":{"domain":[-60,300],"range":[-1.0472,5.23599]}},"theta2":{"field":"b"},"radius":{"field":"r","type":"quantitative","scale":{"type":"linear","domain":[0,110],"range":[0,110]}},"radius2":{"field":"s"}}},
{"data":{"name":"leaf"},"mark":{"type":"arc","color":"#c4c4c4","radius2":82},"encoding":{"theta":{"field":"a","type":"quantitative","stack":null,"scale":{"domain":[-60,300],"range":[-1.0472,5.23599]}},"theta2":{"field":"b"},"radius":{"field":"r","type":"quantitative","scale":{"type":"linear","domain":[0,110],"range":[0,110]}}}},
{"data":{"name":"leaf"},"mark":{"type":"arc","color":"#555555"},"encoding":{"theta":{"field":"a","type":"quantitative","stack":null,"scale":{"domain":[-60,300],"range":[-1.0472,5.23599]}},"theta2":{"field":"b"},"radius":{"field":"r","type":"quantitative","scale":{"type":"linear","domain":[0,110],"range":[0,110]}},"radius2":{"field":"q"}}},
{"data":{"name":"leaf"},"mark":{"type":"arc","color":"#666666","opacity":0.6,"radius":95,"radius2":82},"encoding":{"theta":{"field":"a","type":"quantitative","stack":null,"scale":{"domain":[-60,300],"range":[-1.0472,5.23599]}},"theta2":{"field":"b"}}}
]},
{"width":268,"height":240,"layer":[
{"data":{"name":"pie"},"mark":{"type":"arc","outerRadius":77,"stroke":"white","strokeWidth":1},"encoding":{"x":{"datum":129.3,"type":"quantitative","scale":{"domain":[0,268]},"axis":null},"y":{"datum":117.3,"type":"quantitative","scale":{"domain":[240,0]},"axis":null},"theta":{"field":"n","type":"quantitative"},"order":{"field":"o","type":"quantitative"},"color":{"field":"t","type":"nominal","scale":{"domain":["WGD","Tandem","Singleton","Proximal","Dispersed"],"range":["#8fc162","#82b09a","#c8c8c8","#2f3765","#d5d5d5"]},"legend":null}}},
{"data":{"name":"pieLead"},"mark":{"type":"rule","color":"#888888","strokeWidth":0.7},"encoding":{"x":{"field":"x","type":"quantitative","scale":{"domain":[0,268]},"axis":null},"y":{"field":"y","type":"quantitative","scale":{"domain":[240,0]},"axis":null},"x2":{"field":"x2"},"y2":{"field":"y2"}}},
{"data":{"name":"pieText"},"mark":{"type":"text","font":"DejaVu Sans","fontSize":9,"color":"#111111"},"encoding":{"x":{"field":"x","type":"quantitative","scale":{"domain":[0,268]},"axis":null},"y":{"field":"y","type":"quantitative","scale":{"domain":[240,0]},"axis":null},"text":{"field":"l"}}}
]},
{"width":297,"height":200,"layer":[
{"data":{"name":"histGrid"},"mark":{"type":"rule","color":"#eeeeee","strokeWidth":0.8},"encoding":{"x":{"field":"x","type":"quantitative"},"y":{"field":"y","type":"quantitative"},"y2":{"field":"y2"}}},
{"data":{"name":"hist"},"mark":{"type":"rect","fill":"#7fc8ea","stroke":"#1a1a1a","strokeWidth":1},"encoding":{"x":{"field":"s","type":"quantitative"},"x2":{"field":"e"},"y":{"field":"n","type":"quantitative"},"y2":{"field":"z"}}},
{"data":{"name":"dens"},"mark":{"type":"area","color":"#eeb35a","opacity":0.35,"interpolate":"monotone"},"encoding":{"x":{"field":"x","type":"quantitative"},"y":{"field":"y","type":"quantitative","stack":null}}},
{"data":{"name":"dens"},"mark":{"type":"line","color":"#111111","strokeWidth":1,"interpolate":"monotone"},"encoding":{"x":{"field":"x","type":"quantitative","scale":{"domain":[-0.285,5.89],"nice":false,"zero":false},"axis":{"title":"Ks range","labelOverlap":false,"tickCount":30,"values":[0,0.5,1,1.5,2,2.5,3,3.5,4,4.5,5],"format":".1f","grid":false,"ticks":false,"domain":false,"labelFontSize":7,"labelColor":"#4d4d4d","labelPadding":3,"titleFontSize":8.5,"titleColor":"#222222","titlePadding":3}},"y":{"field":"y","type":"quantitative","scale":{"domain":[-0.235,7.2],"nice":false,"zero":false},"axis":{"title":"Count","format":"d","labelOverlap":false,"tickCount":30,"titleY":125,"values":[0,1,2,3,4,5,6],"labelExpr":"datum.value%2==0?datum.label:''","grid":true,"gridColor":"#eeeeee","gridWidth":0.8,"ticks":false,"domain":false,"labelFontSize":7,"labelColor":"#4d4d4d","labelPadding":6,"titleFontSize":8.5,"titleColor":"#222222","titlePadding":5}}}}
]}
],"spacing":0,"bounds":"flush","resolve":{"scale":{"color":"independent"}}},
{"width":10,"height":82,"data":{"values":[{"k":1}]},"mark":{"type":"point","opacity":0},"encoding":{}},
{"hconcat":[
{"width":160,"height":100.3,"data":{"values":[{"k":1}]},"mark":{"type":"point","opacity":0},"encoding":{}},
{"width":142.7,"height":100.3,"title":{"text":"PM Between Genotypes","fontSize":12.7,"fontWeight":"normal","offset":3.5},"layer":[
{"data":{"name":"v1n"},"mark":{"type":"circle","size":12,"color":"#bebebe","opacity":1},"encoding":{"x":{"field":"x","type":"quantitative"},"y":{"field":"y","type":"quantitative"}}},
{"data":{"name":"v1s"},"mark":{"type":"circle","size":9,"opacity":1},"encoding":{"x":{"field":"x","type":"quantitative"},"y":{"field":"y","type":"quantitative"},"color":{"field":"g","type":"nominal","scale":{"domain":["Down","Up"],"range":["#00aebd","#b81c1c"]},"legend":null}}},
{"data":{"values":[{"k":1}]},"mark":{"type":"rule","strokeDash":[5,3],"strokeWidth":1.3,"color":"#111111"},"encoding":{"y":{"datum":1.3,"type":"quantitative"}}},
{"data":{"values":[{"k":1}]},"mark":{"type":"rule","strokeDash":[5,3],"strokeWidth":1.3,"color":"#111111"},"encoding":{"x":{"datum":-1.5,"type":"quantitative"}}},
{"data":{"values":[{"k":1}]},"mark":{"type":"rule","strokeDash":[5,3],"strokeWidth":1.3,"color":"#111111"},"encoding":{"x":{"datum":1.5,"type":"quantitative","scale":{"domain":[-2,3.88],"nice":false,"zero":false},"axis":{"title":"Log2 Fold Change","format":"d","labelOverlap":false,"tickCount":30,"values":[-2,-1,0,1,2,3],"grid":false,"domainColor":"#333333","domainWidth":1.3,"tickColor":"#333333","tickSize":3,"labelFontSize":9,"labelColor":"#4d4d4d","labelPadding":2,"titleFontSize":12.5,"titleColor":"#000000","titlePadding":6}}}},
{"data":{"values":[{"k":1}]},"mark":{"type":"rule","opacity":0},"encoding":{"y":{"datum":0,"type":"quantitative","scale":{"domain":[-0.47,9.6],"nice":false,"zero":false},"axis":{"title":"−log₁₀p−value","labelOverlap":false,"tickCount":30,"values":[0,2.5,5,7.5],"format":".1f","grid":false,"domainColor":"#333333","domainWidth":1.3,"tickColor":"#333333","tickSize":3,"labelFontSize":9,"labelColor":"#4d4d4d","labelPadding":2,"titleFontSize":11,"titleColor":"#000000","titlePadding":14}}}}
]},
{"width":110,"height":100.3,"data":{"values":[{"k":1}]},"mark":{"type":"point","opacity":0},"encoding":{}},
{"width":145.7,"height":100.3,"title":{"text":"PM SSL508−28 Between Times","fontSize":12.7,"fontWeight":"normal","offset":3.5},"layer":[
{"data":{"name":"v2n"},"mark":{"type":"circle","size":16,"color":"#bebebe","opacity":1},"encoding":{"x":{"field":"x","type":"quantitative"},"y":{"field":"y","type":"quantitative"}}},
{"data":{"name":"v2s"},"mark":{"type":"circle","size":9,"opacity":1},"encoding":{"x":{"field":"x","type":"quantitative"},"y":{"field":"y","type":"quantitative"},"color":{"field":"g","type":"nominal","scale":{"domain":["Down","Up"],"range":["#00aebd","#b81c1c"]},"legend":null}}},
{"data":{"values":[{"k":1}]},"mark":{"type":"rule","strokeDash":[5,3],"strokeWidth":1.3,"color":"#111111"},"encoding":{"y":{"datum":1.3,"type":"quantitative"}}},
{"data":{"values":[{"k":1}]},"mark":{"type":"rule","strokeDash":[5,3],"strokeWidth":1.3,"color":"#111111"},"encoding":{"x":{"datum":-1.5,"type":"quantitative"}}},
{"data":{"values":[{"k":1}]},"mark":{"type":"rule","strokeDash":[5,3],"strokeWidth":1.3,"color":"#111111"},"encoding":{"x":{"datum":1.5,"type":"quantitative","scale":{"domain":[-5.18,5.75],"nice":false,"zero":false},"axis":{"title":"Log2 Fold Change","labelOverlap":false,"tickCount":30,"values":[-5,-2.5,0,2.5,5],"format":".1f","grid":false,"domainColor":"#333333","domainWidth":1.3,"tickColor":"#333333","tickSize":3,"labelFontSize":9,"labelColor":"#4d4d4d","labelPadding":2,"titleFontSize":12.5,"titleColor":"#000000","titlePadding":6}}}},
{"data":{"values":[{"k":1}]},"mark":{"type":"rule","opacity":0},"encoding":{"y":{"datum":0,"type":"quantitative","scale":{"domain":[-2.4,49],"nice":false,"zero":false},"axis":{"title":null,"format":"d","labelOverlap":false,"tickCount":30,"values":[0,10,20,30,40],"grid":false,"domainColor":"#333333","domainWidth":1.3,"tickColor":"#333333","tickSize":3,"labelFontSize":9,"labelColor":"#4d4d4d","labelPadding":2}}}}
]},
{"width":119.3,"height":100.3,"data":{"values":[{"k":1}]},"mark":{"type":"point","opacity":0},"encoding":{}},
{"width":145.7,"height":100.3,"title":{"text":"PM D8 Between Times","fontSize":12.7,"fontWeight":"normal","offset":3.5},"layer":[
{"data":{"name":"v3n"},"mark":{"type":"circle","size":16,"color":"#bebebe","opacity":1},"encoding":{"x":{"field":"x","type":"quantitative"},"y":{"field":"y","type":"quantitative"}}},
{"data":{"name":"v3s"},"mark":{"type":"circle","size":9,"opacity":1},"encoding":{"x":{"field":"x","type":"quantitative"},"y":{"field":"y","type":"quantitative"},"color":{"field":"g","type":"nominal","scale":{"domain":["Down","Up"],"range":["#00aebd","#b81c1c"]},"legend":null}}},
{"data":{"values":[{"k":1}]},"mark":{"type":"rule","strokeDash":[5,3],"strokeWidth":1.3,"color":"#111111"},"encoding":{"y":{"datum":1.3,"type":"quantitative"}}},
{"data":{"values":[{"k":1}]},"mark":{"type":"rule","strokeDash":[5,3],"strokeWidth":1.3,"color":"#111111"},"encoding":{"x":{"datum":-1.5,"type":"quantitative"}}},
{"data":{"values":[{"k":1}]},"mark":{"type":"rule","strokeDash":[5,3],"strokeWidth":1.3,"color":"#111111"},"encoding":{"x":{"datum":1.5,"type":"quantitative","scale":{"domain":[-6.35,3.67],"nice":false,"zero":false},"axis":{"title":"Log2 Fold Change","format":"d","labelOverlap":false,"tickCount":30,"values":[-6,-4,-2,0,2],"grid":false,"domainColor":"#333333","domainWidth":1.3,"tickColor":"#333333","tickSize":3,"labelFontSize":9,"labelColor":"#4d4d4d","labelPadding":2,"titleFontSize":12.5,"titleColor":"#000000","titlePadding":6}}}},
{"data":{"values":[{"k":1}]},"mark":{"type":"rule","opacity":0},"encoding":{"y":{"datum":0,"type":"quantitative","scale":{"domain":[-1.77,36.2],"nice":false,"zero":false},"axis":{"title":null,"format":"d","labelOverlap":false,"tickCount":30,"values":[0,10,20,30],"grid":false,"domainColor":"#333333","domainWidth":1.3,"tickColor":"#333333","tickSize":3,"labelFontSize":9,"labelColor":"#4d4d4d","labelPadding":2}}}}
]}
],"spacing":0,"bounds":"flush","resolve":{"scale":{"color":"independent"}}},
{"width":10,"height":35,"data":{"values":[{"k":1}]},"mark":{"type":"point","opacity":0},"encoding":{}},
{"concat":[
{"width":19,"height":291.7,"data":{"values":[{"k":1}]},"mark":{"type":"point","opacity":0},"encoding":{}},
{"width":162,"height":291.7,"data":{"values":[{"k":1}]},"mark":{"type":"point","opacity":0},"encoding":{}},
{"width":538.6,"height":291.7,"data":{"name":"inter"},"layer":[
{"mark":{"type":"bar"},"encoding":{"x":{"field":"id","type":"nominal","axis":null,"scale":{"domain":["a","b","c","d","e","f","g","h"],"paddingInner":0.6,"paddingOuter":0.788}},"y":{"field":"n","type":"quantitative","scale":{"domain":[0,80],"nice":false},"axis":{"title":null,"format":"d","labelOverlap":false,"tickCount":30,"values":[0,10,20,30,40,50,60,70,80],"grid":false,"domainColor":"#666666","domainWidth":1.5,"tickColor":"#666666","tickSize":4,"labelFontSize":10,"labelColor":"#222222","labelPadding":2}},"color":{"field":"c","type":"nominal","scale":{"domain":["light green","light red","grey","green","red"],"range":["#98ff98","#ff8a8a","#bebebe","#31a02f","#e31a1c"]},"legend":null}}},
{"mark":{"type":"text","fontSize":9.5,"dy":-13,"color":"#111111"},"encoding":{"x":{"field":"id","type":"nominal","axis":null},"y":{"field":"n","type":"quantitative"},"text":{"field":"n","type":"quantitative"}}}
]},
{"width":19,"height":126.3,"data":{"values":[{"k":1}]},"mark":{"type":"point","opacity":0},"encoding":{}},
{"width":162,"height":126.3,"data":{"name":"sets"},"mark":{"type":"bar"},"encoding":{"y":{"field":"s","type":"nominal","scale":{"domain":["D8 Down","SSL Down","SSL Up","D8 Up"],"paddingInner":0.5,"paddingOuter":0.25},"axis":{"orient":"right","title":null,"ticks":false,"domain":false,"labelFontSize":9.5,"labelColor":"#222222","labelAlign":"center","labelPadding":28}},"x":{"field":"n","type":"quantitative","scale":{"domain":[100,0],"nice":false},"axis":{"title":null,"format":"d","labelOverlap":false,"tickCount":30,"values":[0,20,40,60,80,100],"grid":false,"offset":6,"domainColor":"#666666","domainWidth":1.2,"tickColor":"#666666","tickSize":3,"labelFontSize":10,"labelColor":"#222222","labelPadding":2}},"color":{"field":"g","type":"nominal","scale":{"domain":["Down","Up"],"range":["#00aebd","#b81000"]},"legend":null}}},
{"width":538.6,"height":126.3,"layer":[
{"data":{"name":"stripes"},"mark":{"type":"rect","color":"#f6f6f6"},"encoding":{"y":{"field":"s","type":"nominal","scale":{"domain":["D8 Down","SSL Down","SSL Up","D8 Up"]},"axis":null}}},
{"data":{"name":"matrix"},"mark":{"type":"point","filled":true,"opacity":1,"size":216,"color":"#bebebe","shape":"M -1 0 A 1 0.87 0 1 0 1 0 A 1 0.87 0 1 0 -1 0 Z"},"encoding":{"x":{"field":"id","type":"nominal","axis":null,"scale":{"type":"band","domain":["a","b","c","d","e","f","g","h"],"paddingInner":0.6,"paddingOuter":0.788}},"y":{"field":"s","type":"nominal","axis":null}}},
{"data":{"name":"matrix"},"transform":[{"filter":"datum.m==1"}],"mark":{"type":"line","color":"#000000","strokeWidth":3.5},"encoding":{"x":{"field":"id","type":"nominal","axis":null},"y":{"field":"s","type":"nominal","axis":null},"detail":{"field":"id","type":"nominal"}}},
{"data":{"name":"matrix"},"transform":[{"filter":"datum.m==1"}],"mark":{"type":"point","filled":true,"opacity":1,"size":216,"shape":"M -1 0 A 1 0.87 0 1 0 1 0 A 1 0.87 0 1 0 -1 0 Z","color":"#000000"},"encoding":{"x":{"field":"id","type":"nominal","axis":null},"y":{"field":"s","type":"nominal","axis":null}}}
]}
],"columns":3,"align":"each","bounds":"flush","spacing":{"row":0,"column":53.7},"resolve":{"scale":{"color":"independent"}}}
],"spacing":0,"resolve":{"scale":{"color":"independent"}}}
]}
